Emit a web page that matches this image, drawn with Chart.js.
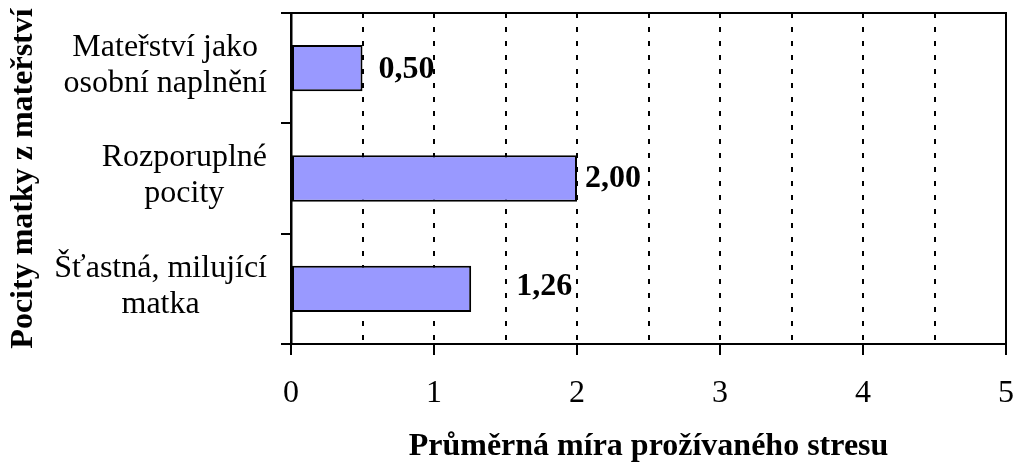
<!DOCTYPE html>
<html lang="cs">
<head>
<meta charset="utf-8">
<title>Průměrná míra prožívaného stresu</title>
<script src="https://cdn.jsdelivr.net/npm/chart.js@4"></script>
<style>
  html, body { margin: 0; padding: 0; background: #fff; }
  canvas { display: block; }
</style>
</head>
<body>
<canvas id="chart" width="1014" height="464"></canvas>
<script>
// Categories (each entry is one label, split into its lines)
const categories = [
  ['Mateřství jako', 'osobní naplnění'],
  ['Rozporuplné', 'pocity'],
  ['Šťastná, milující', 'matka']
];
// Mean stress level per category
const stressValues = [0.50, 2.00, 1.26];
// Numbers printed under the horizontal axis
const xTickLabels = ['0', '1', '2', '3', '4', '5'];

const yTitle = 'Pocity matky z mateřství';
const xTitle = 'Průměrná míra prožívaného stresu';

const FONT = "'Liberation Serif', 'Times New Roman', serif";

// Category names drawn right of the axis title, each block centred on itself
const categoryLabels = {
  id: 'categoryLabels',
  afterDraw(chart) {
    const ctx = chart.ctx;
    const y = chart.scales.y;
    const right = chart.chartArea.left - 24;
    const lineH = 36;
    ctx.save();
    ctx.font = '32px ' + FONT;
    ctx.fillStyle = '#000';
    ctx.textAlign = 'center';
    ctx.textBaseline = 'middle';
    categories.forEach((lines, i) => {
      const w = Math.max(...lines.map(l => ctx.measureText(l).width));
      const cx = right - w / 2;
      const cy = y.getPixelForTick(i) - 2.5;
      const start = cy - (lines.length - 1) * lineH / 2;
      lines.forEach((l, k) => ctx.fillText(l, cx, start + k * lineH));
    });
    ctx.restore();
  }
};

// Solid frame on the top and right of the plot area
const plotFrame = {
  id: 'plotFrame',
  beforeDatasetsDraw(chart) {
    const { ctx, chartArea: a } = chart;
    ctx.save();
    ctx.strokeStyle = '#000';
    ctx.lineWidth = 2;
    ctx.beginPath();
    ctx.moveTo(a.left, a.top);
    ctx.lineTo(a.right, a.top);
    ctx.lineTo(a.right, a.bottom);
    ctx.stroke();
    ctx.restore();
  }
};

// Bold value labels beside each bar
const valueLabels = {
  id: 'valueLabels',
  afterDatasetsDraw(chart) {
    const ctx = chart.ctx;
    const meta = chart.getDatasetMeta(0);
    const shiftX = [44, 36, 73];
    const shiftY = [2, 0, -2];
    ctx.save();
    ctx.font = 'bold 32px ' + FONT;
    ctx.fillStyle = '#000';
    ctx.textAlign = 'center';
    ctx.textBaseline = 'middle';
    meta.data.forEach((bar, i) => {
      const txt = stressValues[i].toFixed(2).replace('.', ',');
      ctx.fillText(txt, bar.x + shiftX[i], bar.y + shiftY[i]);
    });
    ctx.restore();
  }
};

new Chart(document.getElementById('chart'), {
  type: 'bar',
  data: {
    labels: categories,
    datasets: [{
      data: stressValues,
      backgroundColor: '#9999FF',
      borderColor: '#000',
      borderWidth: 2,
      borderSkipped: false,
      barPercentage: 0.42,
      categoryPercentage: 1
    }]
  },
  options: {
    indexAxis: 'y',
    responsive: false,
    animation: false,
    devicePixelRatio: 1,
    layout: { padding: { left: 0, top: 13, right: 8, bottom: 0 } },
    plugins: {
      legend: { display: false },
      tooltip: { enabled: false }
    },
    scales: {
      x: {
        type: 'linear',
        min: 0,
        max: 5,
        afterFit(s) {
          s.height = 120;
          s.paddingLeft = 0;
          s.paddingRight = 0;
        },
        ticks: {
          stepSize: 0.5,
          autoSkip: false,
          maxRotation: 0,
          padding: 19,
          color: '#000',
          font: { family: FONT, size: 32 },
          callback: v => Number.isInteger(v) ? xTickLabels[v] : ''
        },
        grid: {
          color: c => (c.tick && (c.tick.value === 0 || c.tick.value === 5)) ? 'rgba(0,0,0,0)' : '#000',
          lineWidth: 2,
          tickColor: c => (c.tick && Number.isInteger(c.tick.value)) ? '#000' : 'rgba(0,0,0,0)',
          tickLength: 11,
          tickWidth: 2,
          tickBorderDash: []
        },
        border: { display: true, color: '#000', width: 2, dash: [5, 9] },
        title: {
          display: true,
          text: xTitle,
          color: '#000',
          font: { family: FONT, size: 32, weight: 'bold', lineHeight: 1.1 },
          padding: { top: 0, bottom: 0 }
        }
      },
      y: {
        type: 'category',
        afterFit(s) { s.width = 291; },
        ticks: { display: false },
        grid: {
          offset: true,
          drawOnChartArea: false,
          drawTicks: true,
          tickLength: 10,
          color: '#000',
          tickColor: '#000',
          lineWidth: 2
        },
        border: { display: true, color: '#000', width: 2.5 },
        title: {
          display: true,
          text: yTitle,
          color: '#000',
          font: { family: FONT, size: 32, weight: 'bold', lineHeight: 1.2 },
          padding: { top: 5, bottom: 0 }
        }
      }
    }
  },
  plugins: [plotFrame, valueLabels, categoryLabels]
});
</script>
</body>
</html>
